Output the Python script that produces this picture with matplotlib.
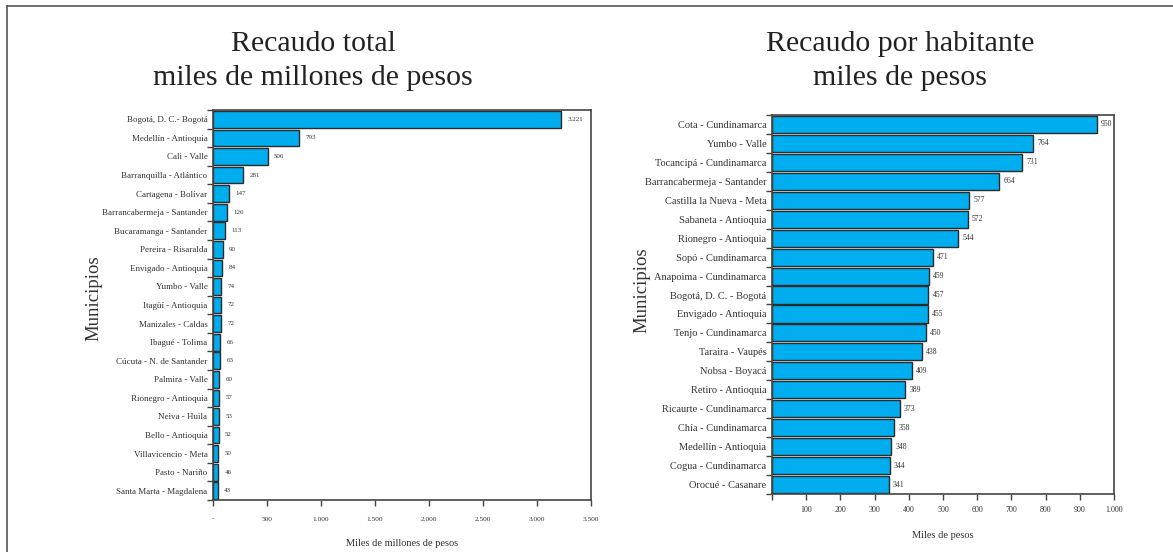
import matplotlib
matplotlib.use("Agg")
import matplotlib.pyplot as plt
from matplotlib.lines import Line2D
import numpy as np

plt.rcParams['font.family'] = ['Liberation Serif', 'DejaVu Serif']

left_title = "Recaudo total\nmiles de millones de pesos"
left_xlabel = "Miles de millones de pesos"
left_cats = ["Bogotá, D. C.- Bogotá", "Medellín - Antioquia", "Cali - Valle",
             "Barranquilla - Atlántico", "Cartagena - Bolívar",
             "Barrancabermeja - Santander", "Bucaramanga - Santander",
             "Pereira - Risaralda", "Envigado - Antioquia", "Yumbo - Valle",
             "Itagüí - Antioquia", "Manizales - Caldas", "Ibagué - Tolima",
             "Cúcuta - N. de Santander", "Palmira - Valle", "Rionegro - Antioquia",
             "Neiva - Huila", "Bello - Antioquia", "Villavicencio - Meta",
             "Pasto - Nariño", "Santa Marta - Magdalena"]
left_vals = [3221, 793, 506, 281, 147, 126, 113, 90, 84, 74, 72, 72, 66, 63,
             60, 57, 53, 52, 50, 46, 43]
left_xticks = [0, 500, 1000, 1500, 2000, 2500, 3000, 3500]
left_xticklabels = ["-", "500", "1.000", "1.500", "2.000", "2.500", "3.000", "3.500"]

right_title = "Recaudo por habitante\nmiles de pesos"
right_xlabel = "Miles de pesos"
right_cats = ["Cota - Cundinamarca", "Yumbo - Valle", "Tocancipá - Cundinamarca",
              "Barrancabermeja - Santander", "Castilla la Nueva - Meta",
              "Sabaneta - Antioquia", "Rionegro - Antioquia", "Sopó - Cundinamarca",
              "Anapoima - Cundinamarca", "Bogotá, D. C. - Bogotá",
              "Envigado - Antioquia", "Tenjo - Cundinamarca", "Taraira - Vaupés",
              "Nobsa - Boyacá", "Retiro - Antioquia", "Ricaurte - Cundinamarca",
              "Chía - Cundinamarca", "Medellín - Antioquia", "Cogua - Cundinamarca",
              "Orocué - Casanare"]
right_vals = [950, 764, 731, 664, 577, 572, 544, 471, 459, 457, 455, 450, 438,
              409, 389, 373, 358, 348, 344, 341]
right_xticks = [0, 100, 200, 300, 400, 500, 600, 700, 800, 900, 1000]
right_xticklabels = ["", "100", "200", "300", "400", "500", "600", "700", "800",
                     "900", "1.000"]

BAR = "#00AEEF"
EDGE = "#2b2b2b"
TXT = "#333333"
W, H = 1173, 552

fig = plt.figure(figsize=(W / 100, H / 100), dpi=100)


def fmt(v):
    return f"{v:,}".replace(",", ".")


def panel(rect, cats, vals, xticks, xticklabels, xmax, title, xlabel,
          title_x, cat_fs, val_fs, val_off, xpad, xlabel_y, ylab_x, ylab_y):
    ax = fig.add_axes(rect)
    n = len(cats)
    pos = np.arange(n)[::-1]
    ax.barh(pos, vals, height=0.9, color=BAR, edgecolor=EDGE, linewidth=1.0)
    ax.set_ylim(-0.5, n - 0.5)
    ax.set_xlim(0, xmax)
    ax.set_yticks(pos)
    ax.set_yticklabels(cats, fontsize=cat_fs, color=TXT)
    ax.tick_params(axis='y', which='major', length=0, pad=4)
    ax.set_yticks(np.arange(n + 1) - 0.5, minor=True)
    ax.tick_params(axis='y', which='minor', length=4, width=1, color="#444444",
                   direction='out')
    ax.set_xticks(xticks)
    ax.set_xticklabels(xticklabels, fontsize=val_fs + 0.3, color=TXT)
    ax.tick_params(axis='x', length=4, width=1, color="#444444", pad=xpad)
    for s in ax.spines.values():
        s.set_color("#444444")
        s.set_linewidth(1.2)
    for p, v in zip(pos, vals):
        ax.text(v + val_off, p, fmt(v), va='center', ha='left',
                fontsize=val_fs, color=TXT)
    fig.text(title_x / W, 1 - 61 / H, title, ha='center', va='center',
             fontsize=21.5, color="#222222", linespacing=1.4)
    x0 = rect[0] + rect[2] / 2
    fig.text(x0, 1 - xlabel_y / H, xlabel, ha='center', va='center',
             fontsize=7.5, color=TXT)
    fig.text(ylab_x / W, 1 - ylab_y / H, "Municipios", ha='center', va='center',
             rotation=90, fontsize=13.5, color=TXT)
    return ax


panel([213 / W, 1 - 500 / H, 378 / W, 390 / H], left_cats, left_vals,
      left_xticks, left_xticklabels, 3500, left_title, left_xlabel,
      313, 6.5, 5.0, 60, 8, 543, 94, 298)
panel([772 / W, 1 - 494 / H, 342 / W, 379 / H], right_cats, right_vals,
      right_xticks, right_xticklabels, 1000, right_title, right_xlabel,
      900, 7.5, 5.5, 12, 5, 535, 642, 290)

fig.add_artist(Line2D([7 / W, 7 / W], [0, 1 - 6 / H], transform=fig.transFigure,
                      color="#555555", linewidth=1.2))
fig.add_artist(Line2D([7 / W, 1], [1 - 6 / H, 1 - 6 / H], transform=fig.transFigure,
                      color="#555555", linewidth=1.2))

fig.savefig("out.png", dpi=100)
